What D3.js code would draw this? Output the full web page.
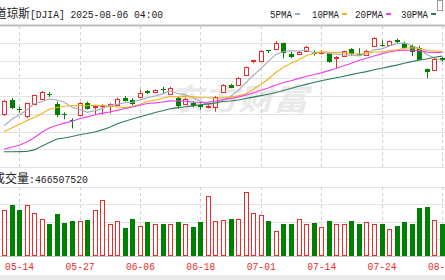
<!DOCTYPE html>
<html>
<head>
<meta charset="utf-8">
<script src="https://cdn.jsdelivr.net/npm/d3@7/dist/d3.min.js"></script>
<style>
html, body { margin: 0; padding: 0; background: #fff; overflow: hidden; }
svg { display: block; }
</style>
</head>
<body>
<svg id="chart" width="445" height="280"></svg>
<script>
// 道琼斯 DJIA 日K, 2025-05-12 .. 2025-08-05
const dates = ["05-12","05-13","05-14","05-15","05-16","05-19","05-20","05-21","05-22","05-23",
  "05-27","05-28","05-29","05-30","06-02","06-03","06-04","06-05","06-06","06-09",
  "06-10","06-11","06-12","06-13","06-16","06-17","06-18","06-20","06-23","06-24",
  "06-25","06-26","06-27","06-30","07-01","07-02","07-03","07-07","07-08","07-09",
  "07-10","07-11","07-14","07-15","07-16","07-17","07-18","07-21","07-22","07-23",
  "07-24","07-25","07-28","07-29","07-30","07-31","08-01","08-04","08-05"];

const opens = [41870,42480,42090,41800,42300,42510,42720,42300,41900,41640,
  41850,42350,42170,42230,42240,42260,42560,42470,42590,42830,
  42780,42900,42740,42530,42320,42320,42240,42190,42150,42780,
  43090,43080,43490,44060,44080,44510,44600,44800,44380,44360,
  44480,44420,44410,44390,44200,44280,44560,44360,44330,44700,
  44730,44740,44940,44830,44700,44620,43730,43730,44180];

const closes = [42410,42140,42051,42323,42655,42792,42677,41860,41859,41603,
  42343,42098,42216,42270,42305,42519,42427,42319,42763,42762,
  42867,42866,42968,42197,42515,42215,42172,42207,42582,43089,
  42982,43386,43819,44095,44495,44484,44829,44406,44241,44458,
  44651,44371,44460,44023,44254,44484,44342,44323,44502,45010,
  44694,44902,44838,44632,44461,44131,43589,44174,44112];

const highs = [42470,42550,42180,42350,42680,42840,42800,42390,41950,41706,
  42370,42400,42260,42290,42330,42560,42620,42540,42890,42870,
  42900,43000,43000,42600,42560,42420,42330,42300,42620,43110,
  43130,43400,43850,44120,44530,44520,44890,44830,44450,44480,
  44700,44500,44520,44420,44270,44500,44600,44600,44540,45050,
  44910,44920,44990,44870,44760,44700,43760,44200,44240];

const lows = [41800,42090,41930,41710,42250,42460,42590,41750,41670,41290,
  41820,42070,41840,41860,41910,42230,42400,42240,42560,42700,
  42740,42710,42700,42100,42280,42150,42060,42120,41980,42750,
  42950,43050,43450,43980,44050,44400,44580,44190,44200,44330,
  44450,44300,44340,44000,43770,44250,44300,44290,44300,44680,
  44670,44700,44800,44600,44270,44100,43360,43700,44050];

// 成交量, 百万股
const volumes = [667,739,667,739,627,536,464,613,483,512,
  512,526,667,811,468,512,410,540,430,497,
  459,468,468,497,468,425,497,869,512,526,
  540,540,923,627,598,512,358,459,459,540,
  459,483,416,512,468,468,512,459,497,459,
  459,387,430,497,468,700,710,526,466.5];

const ma5 = [41394,41656,41844,42035,42316,42392,42500,42461,42369,42158,
  42068,41953,42024,42106,42246,42282,42347,42368,42467,42558,
  42628,42715,42845,42732,42683,42552,42413,42261,42338,42453,
  42606,42849,43172,43474,43755,44056,44344,44462,44491,44484,
  44517,44425,44436,44393,44352,44318,44313,44285,44381,44532,
  44574,44686,44789,44815,44705,44593,44330,44197,44093];

const ma10 = [41146,41307,41445,41602,41736,41893,42078,42153,42202,42237,
  42230,42226,42243,42237,42202,42175,42150,42196,42286,42402,
  42455,42531,42607,42599,42620,42590,42564,42553,42535,42568,
  42579,42631,42716,42906,43104,43331,43597,43817,43983,44120,
  44286,44385,44449,44442,44418,44418,44369,44361,44387,44442,
  44446,44499,44537,44598,44619,44584,44508,44493,44454];

const ma20 = [40428,40509,40593,40726,40901,41132,41307,41419,41508,41582,
  41688,41766,41844,41920,41969,42034,42114,42174,42244,42320,
  42342,42379,42425,42418,42411,42382,42357,42375,42411,42485,
  42517,42581,42662,42753,42862,42961,43081,43185,43259,43344,
  43433,43508,43583,43674,43761,43874,43983,44089,44185,44281,
  44366,44442,44493,44520,44518,44501,44439,44427,44421];

const ma30 = [40322,40327,40329,40332,40402,40552,40709,40849,40891,40958,
  41029,41081,41143,41229,41335,41480,41588,41678,41767,41856,
  41944,42021,42098,42146,42186,42219,42264,42301,42341,42402,
  42421,42463,42522,42581,42642,42699,42770,42855,42935,43030,
  43107,43183,43257,43316,43381,43446,43510,43577,43635,43710,
  43771,43839,43901,43982,44047,44111,44158,44224,44275];

const tickDates = ["05-14","05-27","06-06","06-18","07-01","07-14","07-24","08-05"];
const maNames = ["5PMA","10PMA","20PMA","30PMA"];
const lastVolume = "466507520";

const red = "#ee2a2a", green = "#008000";
const maColors = ["#a3aabb", "#f2b418", "#ee40ee", "#2f7d58"];

const svg = d3.select("#chart");
const W = 445;

const x = d3.scalePoint().domain(dates).range([4, 442]);
const yP = d3.scaleLinear().domain([39695, 45559]).range([167, 25]);
const yV = d3.scaleLinear().domain([0, 1000]).range([256, 187]);

const mono = "'Liberation Mono', 'DejaVu Sans Mono', monospace";
const cjk = "'Noto Sans CJK SC', sans-serif";

// 水印
svg.append("text")
  .attr("x", 168).attr("y", 110)
  .attr("font-family", cjk).attr("font-size", 30).attr("font-weight", "bold")
  .attr("font-style", "italic")
  .attr("textLength", 140).attr("lengthAdjust", "spacingAndGlyphs")
  .attr("fill", "#e9e9e9")
  .text("东方财富");

// 价格区网格
const pDom = yP.domain();
const pLines = d3.range(9).map(k => pDom[0] + k * (pDom[1] - pDom[0]) / 8);
svg.append("g").selectAll("line").data(pLines).enter().append("line")
  .attr("x1", 0).attr("x2", W)
  .attr("y1", d => Math.round(yP(d)) + 0.5).attr("y2", d => Math.round(yP(d)) + 0.5)
  .attr("stroke", "#e2e2e2");

// 成交量区网格
svg.append("g").selectAll("line").data([0, 250, 500, 750, 1000]).enter().append("line")
  .attr("x1", 0).attr("x2", W)
  .attr("y1", d => Math.round(yV(d)) + 0.5).attr("y2", d => Math.round(yV(d)) + 0.5)
  .attr("stroke", d => d === 0 ? "#c8c8c8" : "#e2e2e2");

// 竖向虚线
const vg = svg.append("g");
tickDates.forEach(d => {
  const xx = Math.round(x(d)) + 0.5;
  vg.append("line").attr("x1", xx).attr("x2", xx).attr("y1", 26).attr("y2", 167)
    .attr("stroke", "#cfcfcf").attr("stroke-dasharray", "3,3");
  vg.append("line").attr("x1", xx).attr("x2", xx).attr("y1", 187).attr("y2", 256)
    .attr("stroke", "#cfcfcf").attr("stroke-dasharray", "3,3");
});

// 顶部边框
svg.append("line").attr("x1", 0).attr("x2", W).attr("y1", 25.5).attr("y2", 25.5)
  .attr("stroke", "#bdbdbd").attr("stroke-width", 2);

// K线
const idx = d3.range(dates.length);
const candles = svg.append("g");
idx.forEach(i => {
  const up = closes[i] > opens[i];
  const col = up ? red : green;
  const cx = Math.round(x(dates[i]));
  const top = yP(Math.max(opens[i], closes[i]));
  const bot = yP(Math.min(opens[i], closes[i]));
  candles.append("line")
    .attr("x1", cx + 0.5).attr("x2", cx + 0.5)
    .attr("y1", yP(highs[i])).attr("y2", yP(lows[i]))
    .attr("stroke", col);
  const h = Math.max(1, bot - top);
  if (up) {
    candles.append("rect")
      .attr("x", cx - 1.5).attr("y", Math.round(top) + 0.5)
      .attr("width", 4).attr("height", Math.max(1, Math.round(h)))
      .attr("fill", "#fff").attr("stroke", col);
  } else {
    candles.append("rect")
      .attr("x", cx - 2).attr("y", Math.round(top))
      .attr("width", 5).attr("height", Math.max(1, Math.round(h)))
      .attr("fill", col);
  }
});

// 均线
const line = d3.line().x((d, i) => x(dates[i])).y(d => yP(d));
[ma5, ma10, ma20, ma30].forEach((s, k) => {
  svg.append("path").datum(s)
    .attr("d", line)
    .attr("fill", "none")
    .attr("stroke", maColors[k])
    .attr("stroke-width", 1.1);
});

// 成交量柱
const vols = svg.append("g");
idx.forEach(i => {
  const up = closes[i] > opens[i];
  const cx = Math.round(x(dates[i]));
  const top = Math.round(yV(volumes[i]));
  if (up) {
    vols.append("rect")
      .attr("x", cx - 1.5).attr("y", top + 0.5)
      .attr("width", 4).attr("height", yV(0) - top - 1)
      .attr("fill", "#fff").attr("stroke", red);
  } else {
    vols.append("rect")
      .attr("x", cx - 2).attr("y", top)
      .attr("width", 5).attr("height", yV(0) - top)
      .attr("fill", green);
  }
});

// 日期轴
const ax = svg.append("g")
  .attr("transform", "translate(0,256)")
  .call(d3.axisBottom(x).tickValues(tickDates).tickSize(0));
ax.select(".domain").remove();
ax.selectAll("text")
  .attr("y", 14).attr("dy", null)
  .attr("font-family", mono).attr("font-size", 11)
  .attr("textLength", 29).attr("lengthAdjust", "spacingAndGlyphs")
  .attr("fill", red);

// 底部灰条
svg.append("rect").attr("x", 0).attr("y", 275).attr("width", W).attr("height", 5)
  .attr("fill", "#ececec");

// 标题
svg.append("text").attr("x", -5).attr("y", 18)
  .attr("font-family", cjk).attr("font-size", 12).attr("fill", "#222")
  .attr("textLength", 35).attr("lengthAdjust", "spacingAndGlyphs")
  .text("道琼斯");
svg.append("text").attr("x", 30).attr("y", 18)
  .attr("font-family", mono).attr("font-size", 11).attr("fill", "#222")
  .attr("textLength", 133).attr("lengthAdjust", "spacingAndGlyphs")
  .text("[DJIA] 2025-08-06 04:00");

// 图例
const legX = [270, 312, 355, 401];
const legW = [22, 27, 28, 27];
maNames.forEach((n, k) => {
  svg.append("text").attr("x", legX[k]).attr("y", 18)
    .attr("font-family", mono).attr("font-size", 11).attr("fill", "#222")
    .attr("textLength", legW[k]).attr("lengthAdjust", "spacingAndGlyphs")
    .text(n);
  svg.append("rect").attr("x", legX[k] + legW[k] + 3).attr("y", 13)
    .attr("width", 5).attr("height", 2).attr("fill", maColors[k]);
});
svg.append("rect").attr("x", 437.5).attr("y", 0.5).attr("width", 5).attr("height", 10)
  .attr("fill", "none").attr("stroke", "#9a9a9a");

// 成交量标签
svg.append("text").attr("x", -7).attr("y", 183)
  .attr("font-family", cjk).attr("font-size", 12).attr("fill", "#222")
  .attr("textLength", 36).attr("lengthAdjust", "spacingAndGlyphs")
  .text("成交量");
svg.append("text").attr("x", 29).attr("y", 183)
  .attr("font-family", mono).attr("font-size", 11).attr("fill", "#222")
  .attr("textLength", 59).attr("lengthAdjust", "spacingAndGlyphs")
  .text(":" + lastVolume);
</script>
</body>
</html>
